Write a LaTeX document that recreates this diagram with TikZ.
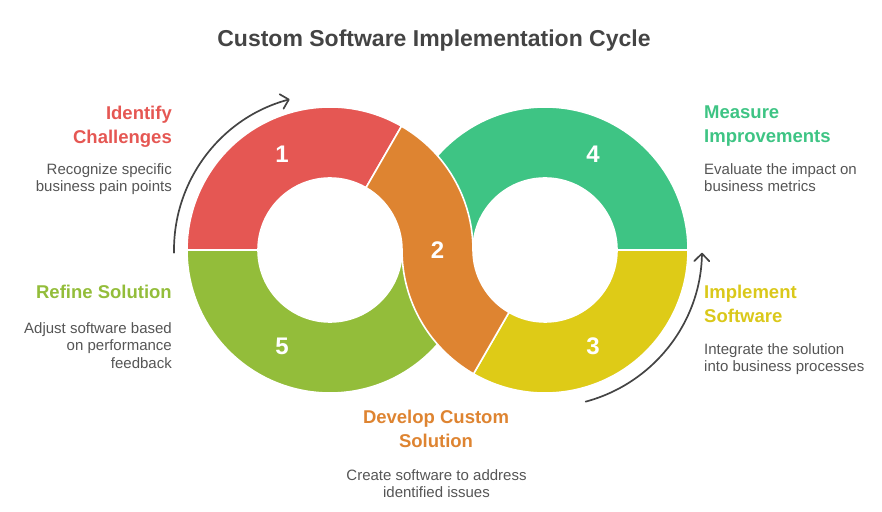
\documentclass[tikz,border=0pt]{standalone}
\usepackage{fontspec}
\setmainfont{Liberation Sans}
\usetikzlibrary{arrows.meta,calc}
\definecolor{cRed}{HTML}{E55753}
\definecolor{cOrange}{HTML}{DE8431}
\definecolor{cGreen}{HTML}{3EC484}
\definecolor{cYellow}{HTML}{DECB17}
\definecolor{cYellowText}{HTML}{DAC81A}
\definecolor{cLime}{HTML}{93BD3A}
\definecolor{cText}{HTML}{555555}
\definecolor{cTitle}{HTML}{444444}
\definecolor{cArrow}{HTML}{444444}
\begin{document}
\begin{tikzpicture}[x=1pt,y=1pt,
  seg/.style={draw=white,line width=1.6pt,line join=round},
  num/.style={text=white,inner sep=0pt,font=\fontsize{24}{24}\selectfont\bfseries},
  head/.style={inner sep=0pt,font=\fontsize{18.5}{24}\selectfont\bfseries},
  desc/.style={inner sep=0pt,text=cText,font=\fontsize{15}{17.5}\selectfont},
  cyc/.style={draw=cArrow,line width=1.7pt,line cap=round,-{Straight Barb[length=7.5pt,width=15pt,line width=1.7pt,round]}}]
\useasboundingbox (0,0) rectangle (882,511);
\coordinate (C1) at (330,261);
\coordinate (C2) at (545,261);

% segment 1 (red)
\path[seg,fill=cRed] ($(C1)+(60:143pt)$) arc[start angle=60,end angle=180,radius=143pt]
  -- ($(C1)+(180:72pt)$) arc[start angle=180,end angle=60,radius=72pt] -- cycle;
% segment 5 (lime)
\path[seg,fill=cLime] ($(C1)+(180:143pt)$) arc[start angle=180,end angle=360,radius=143pt]
  -- ($(C1)+(0:72pt)$) arc[start angle=360,end angle=180,radius=72pt] -- cycle;
% segment 4 (green)
\path[seg,fill=cGreen] ($(C2)+(0:143pt)$) arc[start angle=0,end angle=180,radius=143pt]
  -- ($(C2)+(180:72pt)$) arc[start angle=180,end angle=0,radius=72pt] -- cycle;
% segment 3 (yellow)
\path[seg,fill=cYellow] ($(C2)+(240:143pt)$) arc[start angle=240,end angle=360,radius=143pt]
  -- ($(C2)+(0:72pt)$) arc[start angle=360,end angle=240,radius=72pt] -- cycle;
% segment 2 (orange, S shape)
\path[seg,fill=cOrange] ($(C1)+(60:143pt)$) arc[start angle=60,end angle=0,radius=143pt]
  arc[start angle=180,end angle=240,radius=72pt]
  -- ($(C2)+(240:143pt)$) arc[start angle=240,end angle=180,radius=143pt]
  arc[start angle=0,end angle=60,radius=72pt] -- cycle;

% cycle arrows
\coordinate (a1s) at ($(C1)+(181:156pt)$);
\coordinate (a2s) at ($(C2)+(-75:157pt)$);
\draw[cyc] (a1s) arc[start angle=181,end angle=105,radius=156pt];
\draw[cyc] (a2s) arc[start angle=-75,end angle=-1,radius=157pt];

% numbers
\node[num] (n1) at (282,357) {1};
\node[num] (n2) at (437.5,261) {2};
\node[num] (n3) at (593,165) {3};
\node[num] (n4) at (593,357) {4};
\node[num] (n5) at (282,165) {5};

% title
\node[inner sep=0pt,font=\fontsize{23}{28}\selectfont\bfseries,text=cTitle,anchor=base] (title) at (434,464) {Custom Software Implementation Cycle};

% labels
\node[head,text=cRed,anchor=base east] (h1) at (172,391.7) {\begin{tabular}[t]{@{}r@{}}Identify\\Challenges\end{tabular}};
\node[desc,anchor=base east] (d1) at (172,336.7) {\begin{tabular}[t]{@{}r@{}}Recognize specific\\business pain points\end{tabular}};

\node[head,text=cLime,anchor=base east] (h5) at (172,212.7) {\begin{tabular}[t]{@{}r@{}}Refine Solution\end{tabular}};
\node[desc,anchor=base east] (d5) at (172,177.7) {\begin{tabular}[t]{@{}r@{}}Adjust software based\\on performance\\feedback\end{tabular}};

\node[head,text=cGreen,anchor=base west] (h4) at (704,392.7) {\begin{tabular}[t]{@{}l@{}}Measure\\Improvements\end{tabular}};
\node[desc,anchor=base west] (d4) at (704,336.7) {\begin{tabular}[t]{@{}l@{}}Evaluate the impact on\\business metrics\end{tabular}};

\node[head,text=cYellowText,anchor=base west] (h3) at (704,212.7) {\begin{tabular}[t]{@{}l@{}}Implement\\Software\end{tabular}};
\node[desc,anchor=base west] (d3) at (704,156.7) {\begin{tabular}[t]{@{}l@{}}Integrate the solution\\into business processes\end{tabular}};

\node[head,text=cOrange,anchor=base] (h2) at (436,87.7) {\begin{tabular}[t]{@{}c@{}}Develop Custom\\Solution\end{tabular}};
\node[desc,anchor=base] (d2) at (436.5,31) {\begin{tabular}[t]{@{}c@{}}Create software to address\\identified issues\end{tabular}};
\end{tikzpicture}
\end{document}
